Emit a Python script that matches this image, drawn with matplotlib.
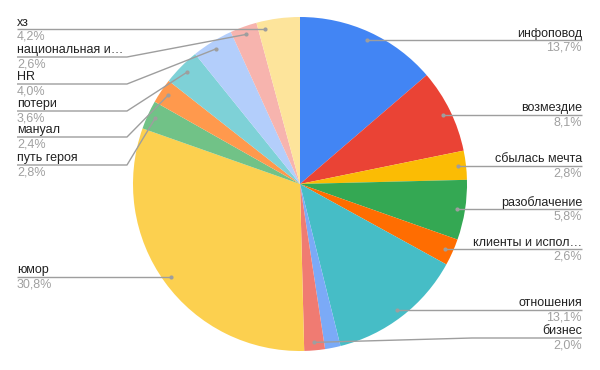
import matplotlib.pyplot as plt
import numpy as np

plt.rcParams['font.family'] = ['Liberation Sans', 'DejaVu Sans']

# данные
labels = ["инфоповод", "возмездие", "сбылась мечта", "разоблачение",
          "клиенты и испол…", "отношения", "", "бизнес", "юмор",
          "путь героя", "мануал", "потери", "HR", "национальная и…", "хз"]
values = [13.7, 8.1, 2.8, 5.8, 2.6, 13.1, 1.5, 2.0, 30.8,
          2.8, 2.4, 3.6, 4.0, 2.6, 4.2]
colors = ["#4285F4", "#EA4335", "#FBBC04", "#34A853", "#FF6D01", "#46BDC6",
          "#7BAAF7", "#F07B72", "#FCD04F", "#71C287", "#FF994D", "#7ED1D7",
          "#B3CEFB", "#F7B4AE", "#FDE49B"]
# высота подписи (пиксели от верха), None - без подписи
label_y = [40, 115, 166, 209, 249, 310, None, 338, 277,
           165, 137, 111, 84, 57, 29]

W, H = 600, 370
cx, cy = 300, 184   # центр в пикселях
R = 167
rd = 159            # радиус для точек-выносок


def py(y):
    return H - y


fig = plt.figure(figsize=(6, 3.7), dpi=100)
ax = fig.add_axes([0, 0, 1, 1])

ax.pie(values, colors=colors, startangle=90, counterclock=False,
       center=(cx, py(cy)), radius=R, wedgeprops=dict(linewidth=0))

ax.set_xlim(0, W)
ax.set_ylim(0, H)
ax.set_aspect('equal')
ax.axis('off')

total = float(sum(values))
cum = np.concatenate([[0], np.cumsum(values)]) / total * 360.0
line_c = "#9e9e9e"

for i, name in enumerate(labels):
    ly = label_y[i]
    if ly is None:
        continue
    a0, a1 = cum[i], cum[i + 1]
    mid = (a0 + a1) / 2
    right = mid < 180
    up = cy - ly
    a = mid
    if abs(up) < rd:
        s = np.degrees(np.arctan2(np.sqrt(rd ** 2 - up ** 2), up))
        cand = s if right else 360 - s
        if a0 <= cand <= a1:
            a = cand
    dx = cx + rd * np.sin(np.radians(a))
    dy = cy - rd * np.cos(np.radians(a))

    if right:
        xe, xl, ha = 472, 582, 'right'
    else:
        xe, xl, ha = 127, 17, 'left'
    if (right and dx > xe) or (not right and dx < xe):
        xe = dx
    ax.plot([dx, xe, xl], [py(dy), py(ly), py(ly)], color=line_c, lw=1,
            solid_capstyle='butt')
    ax.plot(dx, py(dy), 'o', ms=3, color=line_c, mec='none')

    pct = f"{values[i] / total * 100:.1f}%".replace('.', ',')
    ax.text(xl, py(ly - 6.5), name, ha=ha, va='center', fontsize=9,
            color="#222222")
    ax.text(xl, py(ly + 7.5), pct, ha=ha, va='center', fontsize=9,
            color="#a0a0a0")

fig.savefig("out.png", dpi=100)
